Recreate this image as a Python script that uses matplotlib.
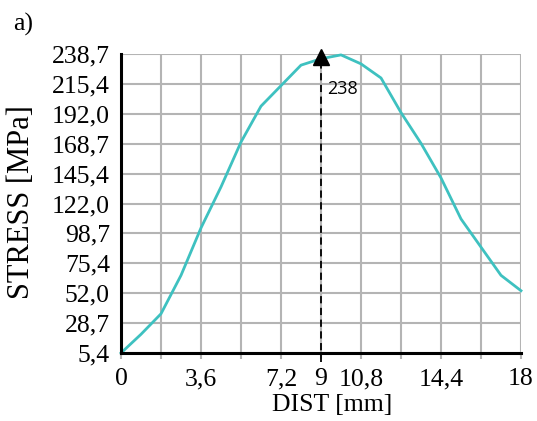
import matplotlib
matplotlib.use("Agg")
import matplotlib.pyplot as plt
import numpy as np

# Data
dist = [0, 0.9, 1.8, 2.7, 3.6, 4.5, 5.4, 6.3, 7.2, 8.1, 9.0, 9.9, 10.8,
        11.7, 12.6, 13.5, 14.4, 15.3, 16.2, 17.1, 18.0]
stress = [5.4, 20, 36, 66, 103, 135, 170, 198, 214, 230, 235, 238, 231,
          220, 193, 169, 142, 110, 88, 66, 54]

xticks_major = [0, 3.6, 7.2, 9, 10.8, 14.4, 18]
xtick_labels = ["0", "3,6", "7,2", "9", "10,8", "14,4", "18"]
xticks_minor = [1.8, 5.4, 12.6, 16.2]
yticks = [5.4, 28.7, 52.0, 75.4, 98.7, 122.0, 145.4, 168.7, 192.0, 215.4, 238.7]
ytick_labels = ["5,4", "28,7", "52,0", "75,4", "98,7", "122,0", "145,4",
                "168,7", "192,0", "215,4", "238,7"]
peak_x = 9
peak_label = "238"

fig = plt.figure(figsize=(5.37, 4.21), dpi=100)
W, H = 537, 421
ax = fig.add_axes([121 / W, 1 - 353 / H, 400 / W, 299 / H])

serif = "Liberation Serif"
grid_c = "#b4b4b4"

ax.set_xlim(0, 18)
ax.set_ylim(5.4, 238.7)
ax.set_xticks(xticks_major)
ax.set_xticklabels(xtick_labels, fontfamily=serif, fontsize=18.5)
ax.set_xticks(xticks_minor, minor=True)
ax.set_yticks(yticks)
ax.set_yticklabels(ytick_labels, fontfamily=serif, fontsize=18.5)

ax.grid(True, which="both", color=grid_c, linewidth=1.5)
ax.set_axisbelow(True)
ax.tick_params(axis="x", which="both", length=4, width=1.5, color=grid_c, pad=7)
ax.tick_params(axis="y", which="both", length=0, pad=8)

for s in ["top", "right"]:
    ax.spines[s].set_visible(False)
for s in ["left", "bottom"]:
    ax.spines[s].set_linewidth(2.2)
    ax.spines[s].set_color("black")
    ax.spines[s].set_zorder(5)

ax.plot(dist, stress, color="#3ec1c0", linewidth=2, zorder=3, clip_on=False)

# Peak marker
ax.plot([peak_x, peak_x], [-1.5, 236], color="black", linestyle=(0, (4, 2.5)),
        linewidth=1.3, clip_on=False, zorder=4)
ax.plot([peak_x], [236.5], marker="^", color="black", markersize=11,
        clip_on=False, zorder=6)
ax.text(9.27, 211.4, peak_label, fontfamily="Open Sans", fontsize=13,
        ha="left", va="center", zorder=6)

ax.set_xlabel("DIST [mm]", fontfamily=serif, fontsize=18.5)
ax.xaxis.set_label_coords((332 - 121) / 400, -(405 - 353) / 299)
ax.xaxis.label.set_va("center")
ax.set_ylabel("STRESS [MPa]", fontfamily=serif, fontsize=22)
ax.yaxis.set_label_coords(-(121 - 22) / 400, (353 - 202) / 299)
ax.yaxis.label.set_va("center")

fig.text(13 / W, 1 - 24 / H, "a)", fontfamily=serif, fontsize=18.5,
         ha="left", va="center")

fig.savefig("out.png", dpi=100)
